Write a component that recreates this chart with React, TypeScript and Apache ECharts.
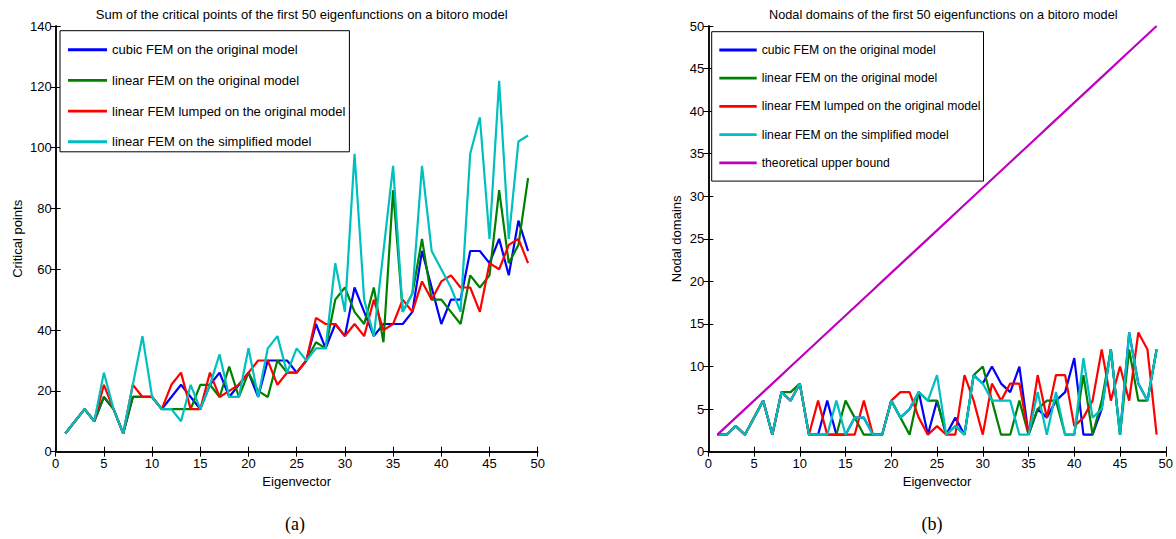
import React, { useEffect, useRef } from "react";
import * as echarts from "echarts";

const eigenvectors = [1,2,3,4,5,6,7,8,9,10,11,12,13,14,15,16,17,18,19,20,21,22,23,24,25,26,27,28,29,30,31,32,33,34,35,36,37,38,39,40,41,42,43,44,45,46,47,48,49];

// (a) critical points
const cubicCP = [6,10,14,10,18,14,6,18,18,18,14,18,22,18,14,22,26,18,22,26,18,30,30,30,26,30,42,34,42,38,54,46,38,42,42,42,46,66,54,42,50,50,66,66,62,70,58,76,66];
const linearCP = [6,10,14,10,18,14,6,18,18,18,14,14,14,14,22,22,18,28,18,26,20,18,30,26,26,30,36,34,50,54,46,42,54,36,86,46,52,70,50,50,46,42,58,54,58,86,62,68,90];
const lumpedCP = [6,10,14,10,22,14,6,22,18,18,14,22,26,14,14,26,18,20,22,26,30,30,22,26,26,30,44,42,42,38,42,38,50,40,42,50,46,56,50,56,58,54,54,46,62,60,68,70,62];
const simplifiedCP = [6,10,14,10,26,14,6,22,38,18,14,14,10,22,14,22,32,18,18,34,18,34,38,26,34,30,34,34,62,46,98,50,38,66,94,46,52,94,66,60,54,46,98,110,70,122,70,102,104];

// (b) nodal domains
const cubicND = [2,2,3,2,4,6,2,7,6,8,2,2,6,2,2,4,4,2,2,6,4,5,7,2,6,2,4,2,9,8,10,8,7,10,2,5,4,6,7,11,2,2,5,12,2,14,8,6,12];
const linearND = [2,2,3,2,4,6,2,7,7,8,2,2,2,2,6,4,2,2,2,6,4,2,7,6,6,2,3,2,9,10,6,2,2,6,2,5,6,6,2,2,9,2,6,12,2,12,6,6,12];
const lumpedND = [2,2,3,2,4,6,2,7,6,8,2,6,2,2,2,2,6,2,2,6,7,7,4,2,3,2,2,9,6,2,8,6,8,8,2,9,4,9,9,3,4,6,12,6,10,6,14,12,2];
const simplifiedND = [2,2,3,2,4,6,2,7,6,8,2,2,2,6,2,4,4,2,2,6,4,5,7,6,9,2,3,2,9,8,6,6,6,2,2,7,2,7,2,2,11,4,5,12,2,14,8,6,12];
const upperBound = [2,3,4,5,6,7,8,9,10,11,12,13,14,15,16,17,18,19,20,21,22,23,24,25,26,27,28,29,30,31,32,33,34,35,36,37,38,39,40,41,42,43,44,45,46,47,48,49,50];

const xTicks = { min: 0, max: 50, interval: 5 };
const leftY = { min: 0, max: 140, interval: 20 };
const rightY = { min: 0, max: 50, interval: 5 };

const names = [
  "cubic FEM on the original model",
  "linear FEM on the original model",
  "linear FEM lumped on the original model",
  "linear FEM on the simplified model",
  "theoretical upper bound",
];
const colors = ["#0000ff", "#008000", "#ff0000", "#00bfbf", "#bf00bf"];

const FONT = "Liberation Sans, Arial, sans-serif";

const pair = (ys: number[]) => ys.map((y, i) => [eigenvectors[i], y]);

export default function App() {
  const ref = useRef<HTMLDivElement>(null);
  useEffect(() => {
    if (!ref.current) return;
    const chart = echarts.init(ref.current, undefined, { renderer: "svg" });
    const axisLine = { show: true, lineStyle: { color: "#000", width: 1.5 } };
    const tick = { show: true, inside: true, length: 5, lineStyle: { color: "#000", width: 1 } };
    const lbl = { color: "#000", fontFamily: FONT, fontSize: 13 };
    const grids = [
      { left: 55.7, top: 26, width: 482, height: 425.7 },
      { left: 708.3, top: 26, width: 459.7, height: 425.7 },
    ];
    const mainX = (gi: number) => ({
      type: "value", gridIndex: gi, position: "bottom", ...xTicks,
      axisLine, axisTick: tick, splitLine: { show: false },
      axisLabel: { ...lbl, margin: 5 },
      name: "Eigenvector", nameLocation: "middle", nameGap: 20,
      nameTextStyle: { color: "#000", fontFamily: FONT, fontSize: 13 },
    });
    const topX = (gi: number) => ({
      type: "value", gridIndex: gi, position: "top", ...xTicks,
      axisLine, axisTick: tick, splitLine: { show: false }, axisLabel: { show: false },
    });
    const mainY = (gi: number, r: any, nm: string, gap: number) => ({
      type: "value", gridIndex: gi, position: "left", ...r,
      axisLine, axisTick: tick, splitLine: { show: false },
      axisLabel: { ...lbl, margin: 4 },
      name: nm, nameLocation: "middle", nameGap: gap,
      nameTextStyle: { color: "#000", fontFamily: FONT, fontSize: 13 },
    });
    const rightYAx = (gi: number, r: any) => ({
      type: "value", gridIndex: gi, position: "right", ...r,
      axisLine, axisTick: tick, splitLine: { show: false }, axisLabel: { show: false },
    });
    const line = (name: string, color: string, data: number[][], xi: number, yi: number) => ({
      type: "line", name, data, xAxisIndex: xi, yAxisIndex: yi,
      symbol: "none", lineStyle: { color, width: 2.2 }, itemStyle: { color },
      z: 3,
    });
    const ubData = upperBound.map((y, i) => [eigenvectors[i], y]);
    const legendBase = {
      orient: "vertical", backgroundColor: "#fff", borderColor: "#000", borderWidth: 1,
      itemWidth: 39, itemHeight: 14, selectedMode: false, icon: "path://M0,0 L40,0 L40,3 L0,3 Z",
    };
    chart.setOption({
      animation: false,
      grid: grids,
      title: [
        { text: "Sum of the critical points of the first 50 eigenfunctions on a bitoro model", left: 296.7, top: 3, textAlign: "center",
          textStyle: { fontFamily: FONT, fontSize: 13, fontWeight: "normal", color: "#000" } },
        { text: "Nodal domains of the first 50 eigenfunctions on a bitoro model", left: 938.3, top: 3, textAlign: "center",
          textStyle: { fontFamily: FONT, fontSize: 12.7, fontWeight: "normal", color: "#000" } },
        { text: "(a)", left: 290, top: 510, textAlign: "center",
          textStyle: { fontFamily: "Liberation Serif, Times New Roman, serif", fontSize: 18, fontWeight: "normal", color: "#000" } },
        { text: "(b)", left: 927, top: 510, textAlign: "center",
          textStyle: { fontFamily: "Liberation Serif, Times New Roman, serif", fontSize: 18, fontWeight: "normal", color: "#000" } },
      ],
      legend: [
        { ...legendBase, left: 60, top: 30.7, padding: [12, 4, 3, 8], itemGap: 16.7,
          data: names.slice(0, 4),
          textStyle: { fontFamily: FONT, fontSize: 13, color: "#000", lineHeight: 14 } },
        { ...legendBase, left: 711.7, top: 31.7, padding: [11.3, 3, 11.3, 7.6], itemGap: 14.2, itemWidth: 37.4,
          data: names,
          textStyle: { fontFamily: FONT, fontSize: 12.2, color: "#000", lineHeight: 14 } },
      ],
      xAxis: [mainX(0), topX(0), mainX(1), topX(1)],
      yAxis: [
        mainY(0, leftY, "Critical points", 32), rightYAx(0, leftY),
        mainY(1, rightY, "Nodal domains", 25), rightYAx(1, rightY),
      ],
      series: [
        line(names[0], colors[0], pair(cubicCP), 0, 0),
        line(names[1], colors[1], pair(linearCP), 0, 0),
        line(names[2], colors[2], pair(lumpedCP), 0, 0),
        line(names[3], colors[3], pair(simplifiedCP), 0, 0),
        line(names[0], colors[0], pair(cubicND), 2, 2),
        line(names[1], colors[1], pair(linearND), 2, 2),
        line(names[2], colors[2], pair(lumpedND), 2, 2),
        line(names[3], colors[3], pair(simplifiedND), 2, 2),
        line(names[4], colors[4], ubData, 2, 2),
      ],
    });
    return () => chart.dispose();
  }, []);
  return (
    <div
      ref={ref}
      style={{ position: "absolute", left: 0, top: 0, width: 1176, height: 539, background: "#fff" }}
    />
  );
}
